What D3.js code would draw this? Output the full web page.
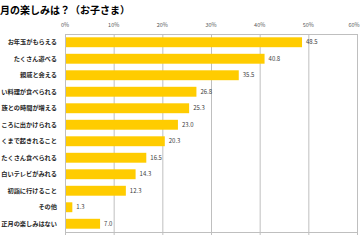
<!DOCTYPE html>
<html>
<head>
<meta charset="utf-8">
<script src="https://cdn.jsdelivr.net/npm/d3@7"></script>
<style>
  html, body { margin: 0; padding: 0; background: #fff; }
  svg { display: block; font-family: "Noto Sans CJK JP", sans-serif; }
</style>
</head>
<body>
<div id="chart"></div>
<script>
// Survey: what children look forward to at New Year (%)
// labels as visible in the (left-cropped) source image
const categories = [
  'お年玉がもらえる',
  'たくさん遊べる',
  '親戚と会える',
  'い料理が食べられる',
  '族との時間が増える',
  'ころに出かけられる',
  'くまで起きれること',
  'たくさん食べられる',
  '白いテレビがみれる',
  '初詣に行けること',
  'その他',
  '正月の楽しみはない'
];
const values = [48.5, 40.8, 35.5, 26.8, 25.3, 23.0, 20.3, 16.5, 14.3, 12.3, 1.3, 7.0];
const ticks = [0, 10, 20, 30, 40, 50, 60];
const title = '月の楽しみは？（お子さま）';

const width = 360, height = 240;
const margin = { top: 34, right: 3, bottom: 8, left: 65 };

const svg = d3.select('#chart')
  .append('svg')
  .attr('width', width)
  .attr('height', height);

svg.append('text')
  .attr('x', 0)
  .attr('y', 14)
  .attr('font-size', 10)
  .attr('font-weight', 'bold')
  .attr('fill', '#000')
  .text(title);

const x = d3.scaleLinear()
  .domain([0, 60])
  .range([margin.left, width - margin.right]);

const y = d3.scaleBand()
  .domain(categories)
  .range([margin.top, height - margin.bottom])
  .paddingInner(0.4)
  .paddingOuter(0.2);

const plotBottom = height - margin.bottom;

// Gridlines
svg.append('g')
  .selectAll('line')
  .data(ticks)
  .join('line')
  .attr('x1', d => x(d) + 0.5)
  .attr('x2', d => x(d) + 0.5)
  .attr('y1', margin.top)
  .attr('y2', plotBottom + 3)
  .attr('stroke', '#bfbfbf')
  .attr('stroke-width', 1);

// Top and bottom frame lines
svg.append('line')
  .attr('x1', x(0)).attr('x2', x(60) + 1)
  .attr('y1', margin.top + 0.5).attr('y2', margin.top + 0.5)
  .attr('stroke', '#bfbfbf');
svg.append('line')
  .attr('x1', x(0)).attr('x2', x(60) + 1)
  .attr('y1', plotBottom + 0.5).attr('y2', plotBottom + 0.5)
  .attr('stroke', '#bfbfbf');

// Top axis labels (last one kept inside the frame)
svg.append('g')
  .selectAll('text')
  .data(ticks)
  .join('text')
  .attr('x', d => Math.min(x(d), width - 6))
  .attr('y', 27)
  .attr('text-anchor', 'middle')
  .attr('font-size', 5.5)
  .attr('fill', '#595959')
  .text(d => d + '%');

// Bars
svg.append('g')
  .selectAll('rect')
  .data(values)
  .join('rect')
  .attr('x', x(0) + 1)
  .attr('y', (d, i) => y(categories[i]))
  .attr('width', d => x(d) - x(0))
  .attr('height', y.bandwidth())
  .attr('fill', '#ffcc00');

// Value labels
svg.append('g')
  .selectAll('text')
  .data(values)
  .join('text')
  .attr('x', d => x(d) + 5)
  .attr('y', (d, i) => y(categories[i]) + y.bandwidth() / 2)
  .attr('dy', '0.35em')
  .attr('font-size', 6)
  .attr('fill', '#404040')
  .text(d => d.toFixed(1));

// Category labels
svg.append('g')
  .selectAll('text')
  .data(categories)
  .join('text')
  .attr('x', x(0) - 8)
  .attr('y', d => y(d) + y.bandwidth() / 2)
  .attr('dy', '0.35em')
  .attr('text-anchor', 'end')
  .attr('font-size', 6.2)
  .attr('font-weight', 'bold')
  .attr('fill', '#262626')
  .text(d => d);
</script>
</body>
</html>
